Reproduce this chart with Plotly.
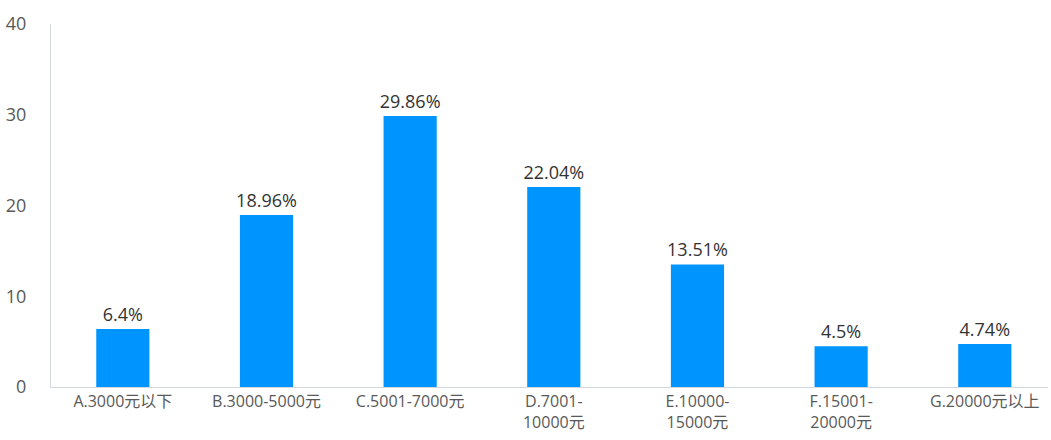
import plotly.graph_objects as go

categories = ["A.3000元以下", "B.3000-5000元", "C.5001-7000元", "D.7001-<br>10000元",
              "E.10000-<br>15000元", "F.15001-<br>20000元", "G.20000元以上"]
values = [6.4, 18.96, 29.86, 22.04, 13.51, 4.5, 4.74]
labels = ["6.4%", "18.96%", "29.86%", "22.04%", "13.51%", "4.5%", "4.74%"]
y_ticks = [0, 10, 20, 30, 40]

font_family = "Open Sans, Noto Sans CJK SC, sans-serif"

fig = go.Figure(go.Bar(
    x=list(range(len(categories))),
    y=values,
    text=labels,
    textposition="outside",
    constraintext="none",
    textfont=dict(size=18, color="#333333", family=font_family),
    marker=dict(color="#0094FF", line=dict(width=0)),
    width=0.37,
    cliponaxis=False,
))

fig.update_layout(
    width=1051, height=440,
    margin=dict(l=51, r=3, t=24, b=53),
    paper_bgcolor="white", plot_bgcolor="white",
    showlegend=False,
    font=dict(family=font_family, color="#595959", size=16),
    xaxis=dict(
        tickmode="array",
        tickvals=list(range(len(categories))),
        ticktext=categories,
        range=[-0.5, 6.44],
        showgrid=False, zeroline=False,
        showline=True, linecolor="#d3d8e0", linewidth=1,
        ticks="", tickfont=dict(size=16, color="#595959"),
    ),
    yaxis=dict(
        range=[0, 40],
        tickmode="array", tickvals=y_ticks,
        showgrid=False, zeroline=False,
        showline=True, linecolor="#d3d8e0", linewidth=1,
        ticks="", ticklabelstandoff=20,
        tickfont=dict(size=18, color="#595959"),
    ),
)

fig.write_html("out.html")
